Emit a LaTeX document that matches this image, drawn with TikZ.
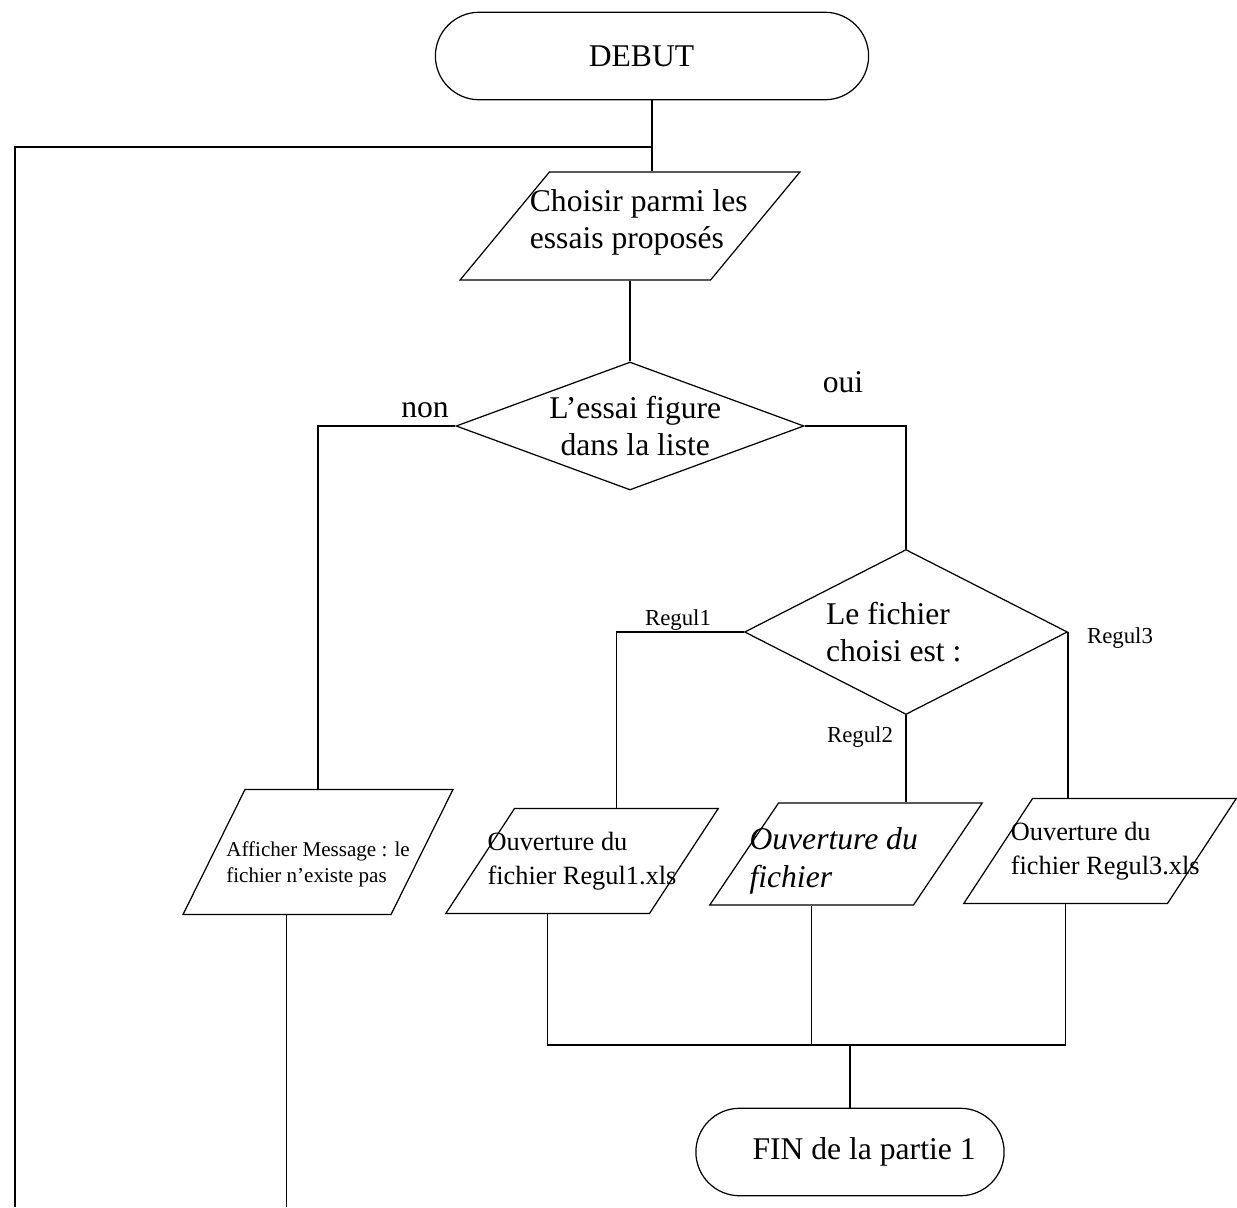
\documentclass[tikz,border=0pt]{standalone}
\usepackage{fontspec}
\setmainfont{Liberation Serif}
\usetikzlibrary{shapes.geometric,shapes.misc}

\begin{document}
\begin{tikzpicture}[x=0.02cm,y=-0.02cm,line width=0.7pt,
		terminal/.style = {draw, rounded rectangle, minimum height=1.75cm, font=\fontsize{18}{21}\selectfont},
		entree/.style = {draw, trapezium, trapezium left angle=63, trapezium right angle=117,
			trapezium stretches=true, inner sep=2pt, minimum width=5.45cm, minimum height=2.1cm},
		test/.style = {draw, diamond, inner sep=1pt},
		grand/.style = {font=\fontsize{18}{21}\selectfont},
		petit/.style = {font=\fontsize{13}{15}\selectfont}
	]
	\useasboundingbox (0,0) rectangle (1237,1207);

	% les blocs
	\node[terminal, minimum width=8.9cm, label={[grand, xshift=-6pt]center:DEBUT}] (debut) at (652,56) {};
	\node[entree, minimum width=6.8cm, minimum height=2.16cm, trapezium left angle=61, trapezium right angle=119,
		label={[grand, align=left, xshift=5pt, yshift=2pt]center:Choisir parmi les\\essais proposés}] (choix) at (630,226) {};
	\node[test, minimum width=6.96cm, minimum height=2.56cm,
		label={[grand, align=center, xshift=3pt]center:L’essai figure\\dans la liste}] (essai) at (630,426) {};
	\node[test, minimum width=6.46cm, minimum height=3.3cm,
		label={[grand, align=left, xshift=-7pt]center:Le fichier\\choisi est :}] (fichier) at (906,632) {};
	\node[entree, minimum width=5.4cm, minimum height=2.5cm, trapezium left angle=67, trapezium right angle=113,
		label={[font=\fontsize{12}{15}\selectfont, align=left, yshift=-7pt]center:Afficher Message : le\\fichier n’existe pas}] (message) at (318,852) {};
	\node[entree, label={[font=\fontsize{15}{19}\selectfont, align=left, xshift=0pt]center:Ouverture du\\fichier Regul1.xls}] (ouv1) at (582,861) {};
	\node[entree, minimum height=2.04cm,
		label={[font=\fontsize{18}{22}\selectfont\itshape, align=left, xshift=-7pt, yshift=-4pt]center:Ouverture du\\fichier}] (ouv2) at (846,854) {};
	\node[entree, label={[font=\fontsize{15}{19}\selectfont, align=left, xshift=3pt]center:Ouverture du\\fichier Regul3.xls}] (ouv3) at (1100,851) {};
	\node[terminal, minimum width=6.4cm, label={[grand, xshift=8pt]center:FIN de la partie 1}] (fin) at (850,1152) {};

	% les etiquettes
	\node[grand] (non) at (425,410) {non};
	\node[grand] (oui) at (843,382) {oui};
	\node[petit] (r1) at (678,620) {Regul1};
	\node[petit] (r2) at (860,737) {Regul2};
	\node[petit] (r3) at (1120,638) {Regul3};

	\coordinate (boucle) at (15,147);
	\coordinate (fond) at (15,1207);
	\coordinate (jonction) at (850,1045);

	% les liaisons
	\draw (debut.south) -- (debut.south |- choix.north);
	\draw (debut.south |- boucle) -- (boucle) -- (fond);
	\draw (choix.south) -- (essai.north);
	\draw (essai.west) -| (message.north);
	\draw (message.bottom side) -- (message.bottom side |- fond);
	\draw (essai.east) -| (fichier.north);
	\draw (fichier.west) -| (ouv1.top side);
	\draw (fichier.south) -- (fichier.south |- ouv2.north);
	\draw (fichier.east) -- (fichier.east |- ouv3.north);
	\draw (ouv1.bottom side) -- (ouv1.bottom side |- jonction) -- (ouv3.bottom side |- jonction) -- (ouv3.bottom side);
	\draw (ouv2.bottom side) -- (ouv2.bottom side |- jonction);
	\draw (jonction) -- (fin.north);
\end{tikzpicture}
\end{document}
